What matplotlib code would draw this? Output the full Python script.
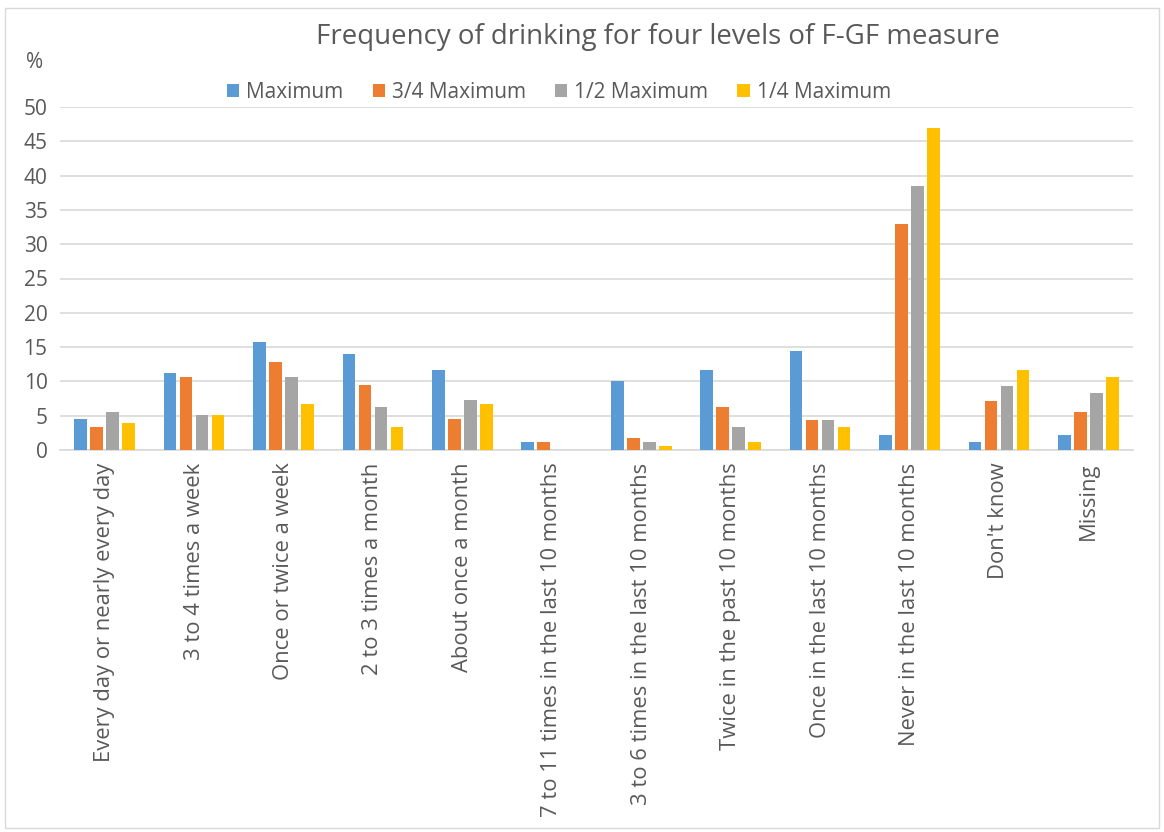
import numpy as np
import matplotlib.pyplot as plt
from matplotlib.patches import Rectangle

categories = ["Every day or nearly every day", "3 to 4 times a week",
              "Once or twice a week", "2 to 3 times a month",
              "About once a month", "7 to 11 times in the last 10 months",
              "3 to 6 times in the last 10 months", "Twice in the past 10 months",
              "Once in the last 10 months", "Never in the last 10 months",
              "Don't know", "Missing"]
series = ["Maximum", "3/4 Maximum", "1/2 Maximum", "1/4 Maximum"]
maximum = [4.5, 11.2, 15.7, 14.0, 11.7, 1.15, 10.1, 11.7, 14.5, 2.2, 1.1, 2.2]
three_q = [3.4, 10.6, 12.9, 9.5, 4.5, 1.15, 1.7, 6.2, 4.4, 32.9, 7.2, 5.5]
half = [5.6, 5.1, 10.6, 6.2, 7.3, 0, 1.1, 3.4, 4.4, 38.5, 9.4, 8.3]
quarter = [3.9, 5.1, 6.7, 3.4, 6.7, 0, 0.6, 1.1, 3.3, 46.9, 11.6, 10.6]
colors = ["#5B9BD5", "#ED7D31", "#A5A5A5", "#FFC000"]

plt.rcParams['font.family'] = ['Open Sans', 'DejaVu Sans']
txt = "#595959"

fig = plt.figure(figsize=(11.64, 8.32), dpi=100)
fig.patches.append(Rectangle((5 / 1164, 1 - 828 / 832), 1154 / 1164, 820 / 832,
                             transform=fig.transFigure, fill=False,
                             edgecolor="#D9D9D9", linewidth=1))
ax = fig.add_axes([60 / 1164, 1 - 450 / 832, 1073 / 1164, 343 / 832])

x = np.arange(len(categories))
pitch = 0.179
for i, (vals, name) in enumerate(zip([maximum, three_q, half, quarter], series)):
    ax.bar(x + (i - 1.5) * pitch, vals, width=0.142, color=colors[i], label=name, zorder=3)

ax.set_xlim(-0.5, len(categories) - 0.5)
ax.set_ylim(0, 50)
ax.set_yticks(range(0, 51, 5))
ax.yaxis.grid(True, color="#D9D9D9", linewidth=1.2, zorder=0)
for s in ["top", "right", "left"]:
    ax.spines[s].set_visible(False)
ax.spines["bottom"].set_color("#D9D9D9")
ax.spines["bottom"].set_linewidth(1.2)
ax.tick_params(axis="both", length=0, colors=txt)
ax.tick_params(axis="y", pad=9, labelsize=15)
ax.tick_params(axis="x", pad=9, labelsize=15.8)
ax.set_xticks(x)
ax.set_xticklabels(categories, rotation=90, va="top")

fig.text(658 / 1164, 1 - 37 / 832, "Frequency of drinking for four levels of F-GF measure",
         ha="center", va="center", fontsize=19.9, color=txt)
fig.text(35 / 1164, 1 - 62 / 832, "%", ha="center", va="center", fontsize=15, color=txt)
leg = fig.legend(loc="center", bbox_to_anchor=(559 / 1164, 1 - 92 / 832), ncol=4,
                 frameon=False, fontsize=15, handlelength=0.58, handleheight=0.58,
                 handletextpad=0.34, columnspacing=1.4)
for t in leg.get_texts():
    t.set_color(txt)

fig.savefig("out.png", dpi=100)
